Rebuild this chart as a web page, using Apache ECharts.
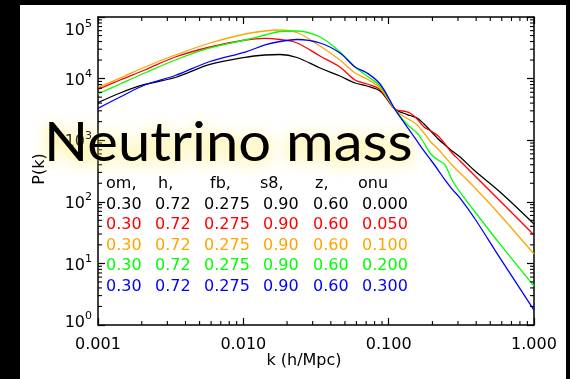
<!DOCTYPE html>
<html>
<head>
<meta charset="utf-8">
<script src="https://cdn.jsdelivr.net/npm/echarts@6/dist/echarts.min.js"></script>
<style>
  html, body { margin: 0; padding: 0; background: #000; }
  #chart { width: 570px; height: 379px; }
</style>
</head>
<body>
<div id="chart"></div>
<script>
// Wavenumber k in h/Mpc, shared by all spectra
const kValues = [0.001, 0.00142, 0.0021, 0.0034, 0.0059, 0.0103, 0.0141, 0.0179, 0.0234, 0.0337,
  0.0462, 0.0587, 0.071, 0.0872, 0.1106, 0.1255, 0.140, 0.157, 0.175, 0.195,
  0.219, 0.244, 0.273, 0.310, 0.393, 0.584, 1.0];

// P(k) for each neutrino density onu
const pkOnu000 = [4062, 5838, 8022, 10420, 16940, 22180, 24160, 24610, 22000, 14860,
  11020, 8485, 7584, 6291, 3174, 2764, 2518, 2293, 1832, 1411,
  1046, 836, 668, 534, 316, 144, 43.6];
const pkOnu005 = [6700, 9490, 13790, 22420, 32580, 42320, 45110, 43120, 37840, 23270,
  15430, 9490, 8170, 6654, 3174, 2979, 2764, 2209, 1638, 1411,
  1170, 868, 620, 460, 262, 103, 28.9];
const pkOnu010 = [7225, 10200, 15430, 24160, 37840, 52970, 59260, 61520, 56000, 33820,
  20040, 12330, 9852, 7040, 3174, 2471, 2128, 1765, 1309, 935,
  720, 534, 396, 293, 167.5, 61.1, 14.2];
const pkOnu020 = [5623, 8170, 12330, 20040, 31390, 42320, 51030, 58160, 59260, 47340,
  27020, 15430, 11020, 7584, 3174, 2128, 1638, 1309, 901, 597,
  477, 396, 226, 144, 68.3, 20.6, 4.3];
const pkOnu030 = [3295, 5026, 7874, 11230, 18950, 27020, 35120, 40020, 43120, 37840,
  26030, 15430, 12330, 8170, 3174, 2050, 1411, 970, 668, 477,
  328, 226, 161, 115, 52.6, 12.2, 1.75];

const seriesColors = ['#000000', '#ff0000', '#ffa500', '#00ff00', '#0000ff'];

// Parameter table printed inside the plot
const tableHeader = ['om,', 'h,', 'fb,', 's8,', 'z,', 'onu'];
const omValues = ['0.30', '0.30', '0.30', '0.30', '0.30'];
const hValues = ['0.72', '0.72', '0.72', '0.72', '0.72'];
const fbValues = ['0.275', '0.275', '0.275', '0.275', '0.275'];
const s8Values = ['0.90', '0.90', '0.90', '0.90', '0.90'];
const zValues = ['0.60', '0.60', '0.60', '0.60', '0.60'];
const onuValues = ['0.000', '0.050', '0.100', '0.200', '0.300'];

// Axis tick labels and minor tick positions
const xTickLabels = ['0.001', '0.010', '0.100', '1.000'];
const xMinorTicks = [0.002, 0.003, 0.004, 0.005, 0.006, 0.007, 0.008, 0.009,
  0.02, 0.03, 0.04, 0.05, 0.06, 0.07, 0.08, 0.09,
  0.2, 0.3, 0.4, 0.5, 0.6, 0.7, 0.8, 0.9];
const yMinorTicks = [2, 3, 4, 5, 6, 7, 8, 9, 20, 30, 40, 50, 60, 70, 80, 90,
  200, 300, 400, 500, 600, 700, 800, 900, 2000, 3000, 4000, 5000, 6000, 7000, 8000, 9000,
  20000, 30000, 40000, 50000, 60000, 70000, 80000, 90000];

const spectra = [pkOnu000, pkOnu005, pkOnu010, pkOnu020, pkOnu030];
const tableColumns = [omValues, hValues, fbValues, s8Values, zValues, onuValues];

const FONT = '"DejaVu Sans", sans-serif';
const X_MIN = 0.001, X_MAX = 1, Y_MIN = 1, Y_MAX = 100000;

const chart = echarts.init(document.getElementById('chart'), null, { renderer: 'canvas' });

function axisBase(extra) {
  return Object.assign({
    type: 'log', logBase: 10,
    axisLine: { show: true, onZero: false, lineStyle: { color: '#000', width: 1.5 } },
    axisTick: { show: true, inside: true, length: 7, lineStyle: { color: '#000', width: 1.2 } },
    splitLine: { show: false },
    minorTick: { show: false }
  }, extra);
}

// Short minor tick marks drawn on both opposite sides of the frame
function minorTicks(values, horizontal) {
  return {
    type: 'custom', silent: true, z: 6, clip: false,
    xAxisIndex: 0, yAxisIndex: 0,
    data: values.map(v => horizontal ? [v, Y_MIN] : [X_MIN, v]),
    encode: { x: 0, y: 1 },
    renderItem(params, api) {
      const v = api.value(horizontal ? 0 : 1);
      const st = { stroke: '#000', lineWidth: 1.1 };
      if (horizontal) {
        const b = api.coord([v, Y_MIN]);
        const t = api.coord([v, Y_MAX]);
        return { type: 'group', children: [
          { type: 'line', shape: { x1: b[0], y1: b[1], x2: b[0], y2: b[1] - 4 }, style: st },
          { type: 'line', shape: { x1: t[0], y1: t[1], x2: t[0], y2: t[1] + 4 }, style: st }
        ] };
      }
      const l = api.coord([X_MIN, v]);
      const r = api.coord([X_MAX, v]);
      return { type: 'group', children: [
        { type: 'line', shape: { x1: l[0], y1: l[1], x2: l[0] + 4, y2: l[1] }, style: st },
        { type: 'line', shape: { x1: r[0], y1: r[1], x2: r[0] - 4, y2: r[1] }, style: st }
      ] };
    }
  };
}

const lineSeries = spectra.map((pk, i) => ({
  type: 'line',
  name: 'onu ' + onuValues[i],
  data: kValues.map((k, j) => [k, pk[j]]),
  showSymbol: false,
  smooth: 0.35,
  lineStyle: { color: seriesColors[i], width: 1.3 },
  z: 3
}));

// Parameter table as text, one element per cell
const colX = [106, 155, 204, 263, 313, 362];
const headX = [106, 158, 210, 260, 315, 358];
const tableGraphics = [];
tableHeader.forEach((h, c) => {
  tableGraphics.push({
    type: 'text', x: headX[c], y: 183.7, z: 50,
    style: { text: h, fill: '#000', font: '16px ' + FONT, verticalAlign: 'middle' }
  });
});
onuValues.forEach((_, r) => {
  tableColumns.forEach((col, c) => {
    tableGraphics.push({
      type: 'text', x: colX[c], y: 204.5 + r * 20.5, z: 50,
      style: { text: col[r], fill: seriesColors[r], font: '16px ' + FONT, verticalAlign: 'middle' }
    });
  });
});

// Overlay heading with a soft yellow halo
const titleText = (glow, z) => ({
  type: 'text', x: 0, y: 0, z: z,
  style: {
    text: 'Neutrino mass',
    fill: glow ? 'rgba(255, 240, 140, 0.8)' : '#000',
    font: '54px Lato, "Open Sans", sans-serif',
    verticalAlign: 'top',
    textShadowBlur: glow ? 16 : 0,
    textShadowOffsetY: glow ? 3 : 0,
    textShadowColor: glow ? 'rgba(255, 228, 50, 0.95)' : 'transparent'
  }
});

const yLabelRich = {
  b: { fontFamily: FONT, fontSize: 16, lineHeight: 20, verticalAlign: 'bottom', color: '#000' },
  s: { fontFamily: FONT, fontSize: 11, lineHeight: 12, verticalAlign: 'top', color: '#000' },
  gapTop: { fontSize: 4, lineHeight: 24 },
  gapBottom: { fontSize: 4, lineHeight: 8 }
};

chart.setOption({
  backgroundColor: '#000',
  animation: false,
  grid: { left: 98, top: 17, width: 436, height: 308, containLabel: false },
  xAxis: [
    axisBase({
      position: 'bottom', min: X_MIN, max: X_MAX,
      name: 'k (h/Mpc)', nameLocation: 'middle', nameGap: 28, nameMoveOverlap: false,
      nameTextStyle: { color: '#000', fontFamily: FONT, fontSize: 16, padding: [0, 24, 0, 0] },
      axisLabel: {
        color: '#000', fontFamily: FONT, fontSize: 16, margin: 12,
        formatter: v => xTickLabels[Math.round(Math.log10(v)) + 3]
      }
    }),
    axisBase({ position: 'top', min: X_MIN, max: X_MAX, axisLabel: { show: false } })
  ],
  yAxis: [
    axisBase({
      position: 'left', min: Y_MIN, max: Y_MAX,
      name: 'P(k)', nameLocation: 'middle', nameGap: 50, nameRotate: 90,
      nameTextStyle: { color: '#000', fontFamily: FONT, fontSize: 16, padding: [0, 0, 0, 4] },
      axisLabel: {
        color: '#000', margin: 6,
        formatter: v => {
          const e = Math.round(Math.log10(v));
          const main = '{b|10}{s|' + e + '}';
          if (v >= Y_MAX) return '{gapTop| }\n' + main;
          if (v <= Y_MIN) return main + '\n{gapBottom| }';
          return main;
        },
        rich: yLabelRich
      }
    }),
    axisBase({ position: 'right', min: Y_MIN, max: Y_MAX, axisLabel: { show: false } })
  ],
  series: lineSeries.concat([minorTicks(xMinorTicks, true), minorTicks(yMinorTicks, false)]),
  graphic: [
    { type: 'rect', shape: { x: 20, y: 5, width: 546, height: 374 }, style: { fill: '#fff' }, z: -10 },
    ...tableGraphics,
    { type: 'group', x: 44, y: 117, scaleX: 1.073, z: 90,
      children: [titleText(true, 90), titleText(false, 92)] }
  ]
});
</script>
</body>
</html>
